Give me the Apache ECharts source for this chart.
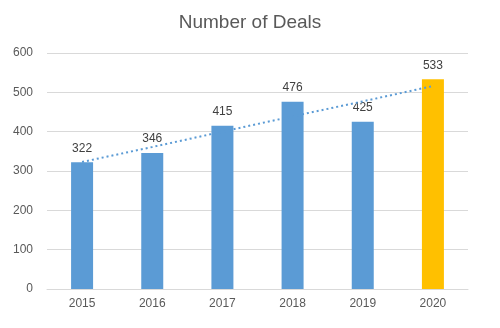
<!DOCTYPE html>
<html>
<head>
<meta charset="utf-8">
<script src="https://cdn.jsdelivr.net/npm/echarts@6/dist/echarts.min.js"></script>
<style>html,body{margin:0;padding:0;background:#fff}#c{width:500px;height:328px}</style>
</head>
<body>
<div id="c"></div>
<script>
var categories = ['2015', '2016', '2017', '2018', '2019', '2020'];
var deals = [322, 346, 415, 476, 425, 533];
var trend = [323, 361, 400, 439, 477, 516];
var yTicks = [0, 100, 200, 300, 400, 500, 600];

var barColors = ['#5B9BD5', '#5B9BD5', '#5B9BD5', '#5B9BD5', '#5B9BD5', '#FFC000'];
var font = 'Liberation Sans, Arial, sans-serif';

var chart = echarts.init(document.getElementById('c'));
chart.setOption({
  animation: false,
  title: {
    text: 'Number of Deals',
    left: 'center',
    top: 8,
    textStyle: { fontFamily: font, fontSize: 19, fontWeight: 'normal', color: '#595959' }
  },
  grid: { left: 47, right: 32, top: 53, bottom: 39 },
  xAxis: {
    type: 'category',
    data: categories,
    axisLine: { show: true, lineStyle: { color: '#D9D9D9', width: 1 } },
    axisTick: { show: false },
    axisLabel: { fontFamily: font, fontSize: 12, color: '#595959', margin: 9 }
  },
  yAxis: {
    type: 'value',
    min: yTicks[0],
    max: yTicks[yTicks.length - 1],
    interval: 100,
    axisLine: { show: false },
    axisTick: { show: false },
    splitLine: { lineStyle: { color: '#D9D9D9', width: 1 } },
    axisLabel: { fontFamily: font, fontSize: 12, color: '#595959', margin: 14 }
  },
  series: [
    {
      type: 'bar',
      data: deals.map(function (v, i) { return { value: v, itemStyle: { color: barColors[i] } }; }),
      barWidth: 22,
      label: {
        show: true,
        position: 'top',
        distance: 8,
        fontFamily: font,
        fontSize: 12,
        color: '#404040'
      },
      z: 2
    },
    {
      type: 'line',
      data: trend,
      symbol: 'none',
      lineStyle: { color: '#5B9BD5', width: 2, type: [2, 3] },
      z: 3
    }
  ]
});
</script>
</body>
</html>
